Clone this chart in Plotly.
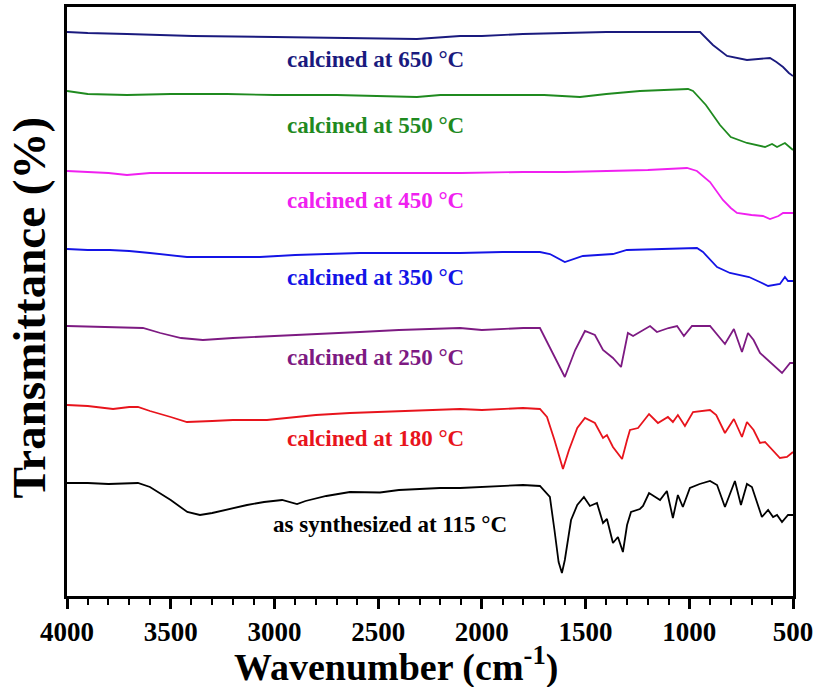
import plotly.graph_objects as go

# ---- data (transmittance in arbitrary offset units) ----
wn_115 = [4000, 3900, 3800, 3700, 3658, 3600, 3500, 3420, 3359, 3300, 3200, 3132, 3050, 2963, 2891, 2850,
          2750, 2636, 2491, 2400, 2300, 2202, 2105, 2000, 1900, 1802, 1720, 1672, 1650, 1630, 1614, 1600,
          1570, 1540, 1508, 1479, 1445, 1416, 1397, 1368, 1344, 1320, 1300, 1281, 1238, 1223, 1194, 1141,
          1108, 1079, 1055, 1031, 997, 950, 900, 866, 828, 780, 751, 722, 698, 650, 620, 596, 577, 553, 524, 500]
t_115 = [117, 117, 116, 117, 117, 113, 100, 88, 85, 87, 92, 95, 98, 100, 96, 99,
         104, 108, 107.5, 110, 111, 112, 112, 113, 114, 115, 114, 103, 70, 38, 27, 40,
         80, 95, 103, 94, 97, 77, 81, 57, 63, 48, 75, 88, 91, 94, 107, 100,
         109, 82, 105, 93, 112, 116, 119, 115, 93, 119, 95, 116, 113, 83, 90, 83, 85, 78, 85, 85]

wn_180 = [4000, 3900, 3778, 3700, 3658, 3600, 3500, 3422, 3300, 3200, 3036, 2900, 2800, 2636, 2500, 2300,
          2105, 2000, 1900, 1802, 1720, 1686, 1650, 1609, 1580, 1540, 1503, 1455, 1416, 1397, 1368, 1324,
          1300, 1286, 1247, 1194, 1151, 1103, 1079, 1055, 1021, 982, 900, 870, 828, 785, 746, 722, 690,
          659, 635, 600, 563, 529, 500]
t_180 = [195, 194, 191, 193, 193, 189, 183, 178, 179, 180, 180, 183, 185, 187, 188, 190,
         191, 190, 191, 192, 191, 183, 160, 131, 150, 172, 182, 177, 162, 165, 153, 141,
         160, 170, 172, 186, 177, 183, 178, 185, 174, 188, 190, 185, 167, 181, 163, 178, 170,
         157, 158, 150, 142, 143, 148]

wn_250 = [4000, 3800, 3634, 3550, 3450, 3345, 3200, 3000, 2877, 2700, 2588, 2400, 2105, 2000, 1900, 1800,
          1720, 1657, 1600, 1550, 1503, 1455, 1416, 1368, 1329, 1296, 1271, 1189, 1156, 1100, 1059, 1026,
          987, 900, 828, 785, 746, 717, 690, 659, 600, 553, 514, 500]
t_250 = [274, 273, 272, 267, 262, 260, 262, 264, 265, 267, 268, 270, 272, 270, 271, 272,
         272, 247, 223, 250, 269, 265, 250, 242, 233, 267, 264, 274, 268, 272, 274, 264,
         274, 274, 256, 271, 248, 267, 260, 247, 236, 227, 237, 237]

wn_350 = [4000, 3900, 3793, 3700, 3600, 3500, 3422, 3200, 3070, 2900, 2700, 2588, 2300, 2105, 1900, 1800,
          1720, 1672, 1600, 1513, 1368, 1301, 1150, 1000, 963, 934, 866, 804, 712, 660, 620, 563, 539, 524, 500]
t_350 = [351, 350, 350, 349, 347, 345, 343, 343, 343, 345, 346, 347, 347, 347, 348, 348,
         348, 346, 338, 344, 346, 350, 351, 352, 352, 348, 333, 327, 323, 318, 314, 316, 323, 319, 319]

wn_450 = [4000, 3900, 3800, 3711, 3600, 3500, 3262, 3000, 2700, 2393, 2100, 1800, 1600, 1397, 1200, 1011,
          963, 900, 838, 800, 770, 700, 645, 611, 570, 548, 500]
t_450 = [429, 428, 427, 425, 427, 427, 427, 427, 427, 427, 427, 428, 428, 429, 430, 432,
         429, 418, 400, 392, 387, 385, 384, 381, 384, 387, 387]

wn_550 = [4000, 3900, 3711, 3500, 3229, 3000, 2700, 2400, 2313, 2200, 2000, 1800, 1700, 1527, 1400, 1238,
          1100, 1006, 982, 920, 852, 800, 722, 635, 601, 577, 539, 510, 500]
t_550 = [509, 506, 505, 506, 506, 505, 505, 504, 503, 505, 505, 505, 505, 503, 506, 509,
         510, 511, 509, 495, 475, 463, 457, 453, 456, 453, 457, 452, 450]

wn_650 = [4000, 3900, 3711, 3393, 3000, 2700, 2313, 2105, 2000, 1802, 1600, 1400, 1238, 1000, 948, 886,
          818, 722, 611, 580, 548, 520, 500]
t_650 = [568, 567, 566, 564, 563, 562, 561, 564, 564, 566, 567, 568, 568, 568, 568, 555,
         544, 540, 542, 538, 533, 527, 524]

labels = ["as synthesized at 115 °C", "calcined at 180 °C", "calcined at 250 °C", "calcined at 350 °C",
          "calcined at 450 °C", "calcined at 550 °C", "calcined at 650 °C"]
label_x = [2443, 2515, 2515, 2515, 2515, 2515, 2515]
label_y = [76, 162, 243, 323, 400, 475, 541]
colors = ["#000000", "#e8141c", "#7d1a82", "#1414e6", "#f020f0", "#1f8a1f", "#1a1a7e"]

x_ticks = [4000, 3500, 3000, 2500, 2000, 1500, 1000, 500]
x_title = "Wavenumber (cm<sup>-1</sup>)"
y_title = "Transmittance (%)"

series = [(wn_115, t_115), (wn_180, t_180), (wn_250, t_250), (wn_350, t_350),
          (wn_450, t_450), (wn_550, t_550), (wn_650, t_650)]

FONT = "Times New Roman, Liberation Serif, serif"

fig = go.Figure()
for (wx, ty), c, name in zip(series, colors, labels):
    fig.add_trace(go.Scatter(x=wx, y=ty, mode="lines", line=dict(color=c, width=1.8),
                             name=name, showlegend=False, hoverinfo="skip"))

for txt, lx, ly, c in zip(labels, label_x, label_y, colors):
    fig.add_annotation(x=lx, y=ly, text=txt, showarrow=False, xanchor="center", yanchor="middle",
                       font=dict(family=FONT, size=23, color=c, weight="bold"))

# axis titles
fig.add_annotation(xref="paper", yref="paper", x=0.453, y=-0.117, text=x_title, showarrow=False,
                   xanchor="center", yanchor="middle",
                   font=dict(family=FONT, size=38, color="black", weight="bold"))
fig.add_annotation(xref="paper", yref="paper", x=-0.053, y=0.489, text=y_title, showarrow=False,
                   xanchor="center", yanchor="middle", textangle=-90,
                   font=dict(family=FONT, size=47, color="black", weight="bold"))

fig.update_layout(
    width=821, height=687,
    margin=dict(l=67, r=28, t=7, b=91),
    paper_bgcolor="white", plot_bgcolor="white",
    xaxis=dict(range=[4000, 500], tickvals=x_ticks, ticktext=[str(v) for v in x_ticks],
               ticks="outside", ticklen=10, tickwidth=2.5, tickcolor="black",
               minor=dict(dtick=100, tick0=0, ticks="outside", ticklen=6, tickwidth=2, tickcolor="black"),
               showline=True, linewidth=2.5, linecolor="black", mirror=True,
               showgrid=False, zeroline=False, automargin=False,
               tickfont=dict(family=FONT, size=27, color="black", weight="bold")),
    yaxis=dict(range=[4, 593], showticklabels=False, ticks="",
               showline=True, linewidth=2.5, linecolor="black", mirror=True,
               showgrid=False, zeroline=False, automargin=False),
)

fig.write_html("out.html", config={"displayModeBar": False},
               post_script="document.body.style.margin='0px';document.body.style.overflow='hidden';")
